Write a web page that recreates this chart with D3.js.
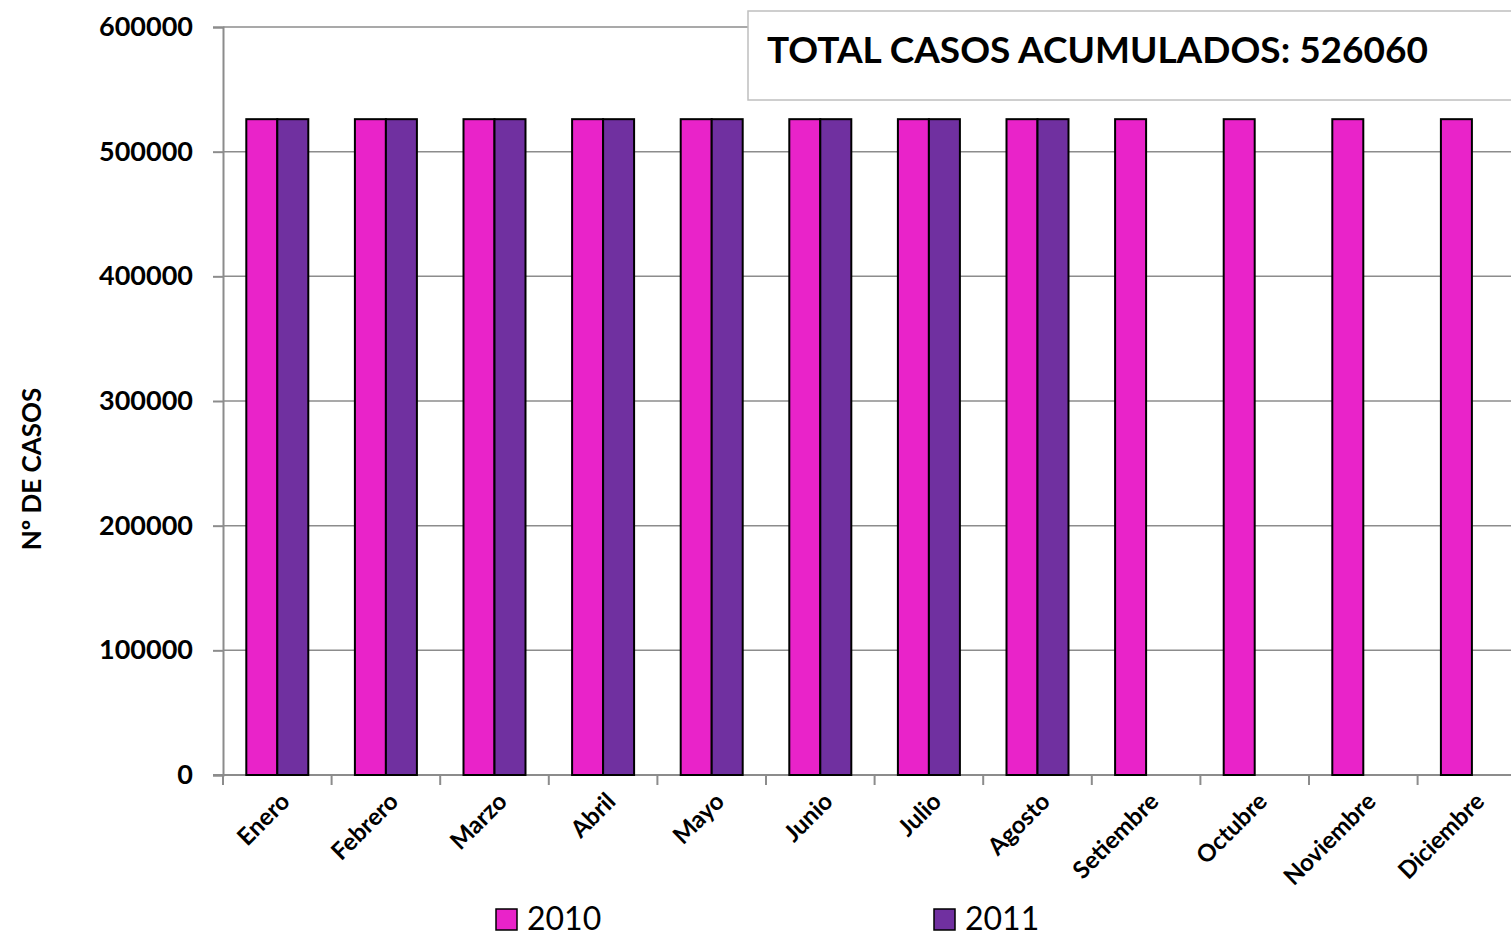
<!DOCTYPE html>
<html>
<head>
<meta charset="utf-8">
<script src="https://cdn.jsdelivr.net/npm/d3@7"></script>
<style>
  body { margin: 0; background: #fff; }
  svg { font-family: Lato, "Open Sans", sans-serif; }
</style>
</head>
<body>
<svg id="chart" width="1511" height="936"></svg>
<script>
// data
var months = ["Enero", "Febrero", "Marzo", "Abril", "Mayo", "Junio", "Julio",
  "Agosto", "Setiembre", "Octubre", "Noviembre", "Diciembre"];
var casos2010 = [526060, 526060, 526060, 526060, 526060, 526060, 526060,
  526060, 526060, 526060, 526060, 526060];
var casos2011 = [526060, 526060, 526060, 526060, 526060, 526060, 526060, 526060];
var yTicks = [0, 100000, 200000, 300000, 400000, 500000, 600000];
var seriesNames = ["2010", "2011"];
var totalLabel = "TOTAL CASOS ACUMULADOS: 526060";

var colors = {"2010": "#E923C9", "2011": "#7030A0"};

var svg = d3.select("#chart"),
  margin = {top: 27, left: 223, bottom: 161},
  height = +svg.attr("height");

var x = d3.scaleBand()
  .domain(months)
  .range([margin.left, margin.left + 12 * 108.6])
  .padding(0);

var y = d3.scaleLinear()
  .domain([0, 600000])
  .range([height - margin.bottom, margin.top]);

var barW = 31;

// gridlines
svg.append("g").selectAll("line").data(yTicks.slice(1))
  .enter().append("line")
  .attr("x1", margin.left).attr("x2", 1511)
  .attr("y1", d => y(d)).attr("y2", d => y(d))
  .attr("stroke", "#8c8c8c").attr("stroke-width", 1.5);

// y axis
var yAxis = svg.append("g")
  .attr("transform", `translate(${margin.left},0)`)
  .call(d3.axisLeft(y).tickValues(yTicks).tickSize(10).tickPadding(20).tickFormat(d3.format("d")));
yAxis.select(".domain").attr("stroke", "#8c8c8c").attr("stroke-width", 2);
yAxis.selectAll(".tick line").attr("stroke", "#8c8c8c").attr("stroke-width", 2);
yAxis.selectAll("text").attr("font-size", 27).attr("font-weight", "bold").attr("fill", "#000")
  .attr("font-family", "Lato, sans-serif");

// x axis
var xAxisG = svg.append("g")
  .attr("transform", `translate(0,${y(0)})`);
xAxisG.append("line")
  .attr("x1", margin.left - 10).attr("x2", 1511)
  .attr("stroke", "#8c8c8c").attr("stroke-width", 2);
var bounds = months.map(m => x(m)).concat([x.range()[1]]);
xAxisG.selectAll("line.tk").data(bounds).enter().append("line")
  .attr("class", "tk")
  .attr("x1", d => d).attr("x2", d => d)
  .attr("y1", 0).attr("y2", 10)
  .attr("stroke", "#8c8c8c").attr("stroke-width", 2);
xAxisG.selectAll("text").data(months).enter().append("text")
  .attr("transform", d => `translate(${x(d) + x.bandwidth() / 2 + 8},${22}) rotate(-45)`)
  .attr("text-anchor", "end")
  .attr("dy", "0.35em")
  .attr("font-size", 24).attr("font-weight", "bold")
  .text(d => d);

// bars
var bars2010 = months.map((m, i) => ({m: m, v: casos2010[i], s: "2010"}));
var bars2011 = casos2011.map((v, i) => ({m: months[i], v: v, s: "2011"}));

svg.append("g").selectAll("rect").data(bars2010.concat(bars2011))
  .enter().append("rect")
  .attr("x", d => x(d.m) + x.bandwidth() / 2 + (d.s === "2010" ? -barW : 0))
  .attr("y", d => y(d.v))
  .attr("width", barW)
  .attr("height", d => y(0) - y(d.v))
  .attr("fill", d => colors[d.s])
  .attr("stroke", "#000").attr("stroke-width", 2);

// y axis title
svg.append("text")
  .attr("transform", "translate(41,469) rotate(-90)")
  .attr("text-anchor", "middle")
  .attr("font-size", 26).attr("font-weight", "bold")
  .text("Nº DE CASOS");

// total box
svg.append("rect")
  .attr("x", 748).attr("y", 11)
  .attr("width", 800).attr("height", 89)
  .attr("fill", "#fff").attr("stroke", "#bfbfbf").attr("stroke-width", 1.5);
svg.append("text")
  .attr("x", 767).attr("y", 63)
  .attr("font-size", 37).attr("font-weight", "bold")
  .text(totalLabel);

// legend
var legendX = [496, 934];
var legend = svg.append("g").selectAll("g").data(seriesNames)
  .enter().append("g")
  .attr("transform", (d, i) => `translate(${legendX[i]},909)`);
legend.append("rect")
  .attr("width", 21).attr("height", 21)
  .attr("fill", d => colors[d]).attr("stroke", "#000").attr("stroke-width", 1.5);
legend.append("text")
  .attr("x", 31).attr("y", 21)
  .attr("font-size", 32)
  .text(d => d);
</script>
</body>
</html>
